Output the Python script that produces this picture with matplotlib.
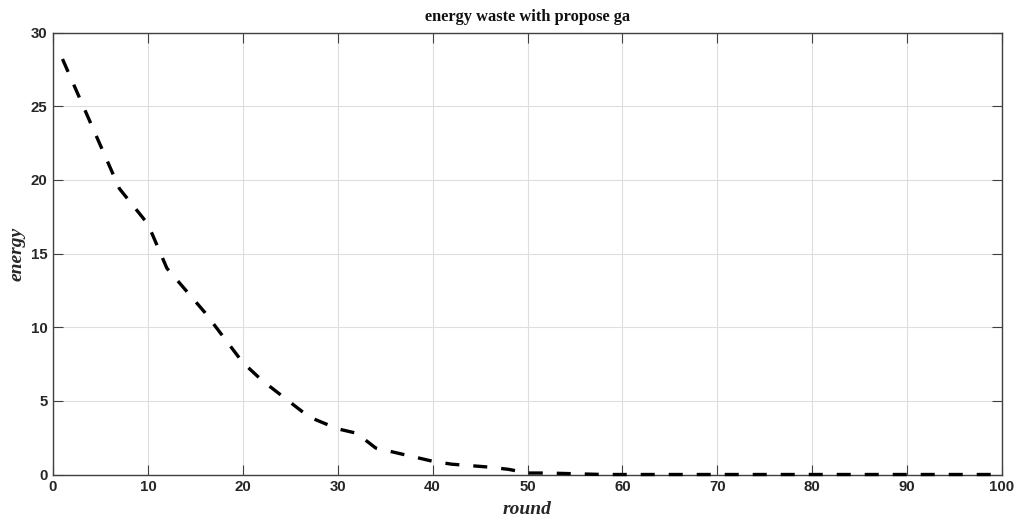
import matplotlib
matplotlib.use("Agg")
import matplotlib.pyplot as plt

# data (polyline nodes)
rounds = [1, 7, 10, 12, 16, 20, 22, 25, 27, 30, 32, 34, 36, 38, 40, 42, 44, 46, 48, 50, 52, 55, 58, 100]
energy = [28.2, 19.4, 17.0, 14.0, 11.0, 7.6, 6.4, 4.9, 3.9, 3.1, 2.8, 1.8, 1.5, 1.2, 0.9, 0.7,
          0.6, 0.5, 0.35, 0.1, 0.1, 0.05, 0.0, 0.0]
xticks = list(range(0, 101, 10))
yticks = list(range(0, 31, 5))

fig = plt.figure(figsize=(10.18, 5.22), dpi=100)
ax = fig.add_axes([53/1018, 1-474.5/522, (1002-53)/1018, (474.5-32.5)/522])

ax.plot(rounds, energy, color="black", lw=2.4, linestyle=(0, (4.2, 4.2)),
        dash_capstyle="butt", zorder=3, clip_on=False)

ax.set_xlim(0, 100)
ax.set_ylim(0, 30)
ax.set_xticks(xticks)
ax.set_yticks(yticks)
ax.grid(True, color="#dedede", lw=0.8)
ax.set_axisbelow(True)

axcol = "#404040"
for s in ax.spines.values():
    s.set_color(axcol)
    s.set_linewidth(1.0)
ax.tick_params(direction="in", length=7, width=0.8, color=axcol,
               top=True, right=True, labelsize=10.8, labelcolor="#262626", pad=4)
for lab in ax.get_xticklabels() + ax.get_yticklabels():
    lab.set_fontfamily("Liberation Sans")
    lab.set_fontweight("bold")

ax.set_title("energy waste with propose ga", fontfamily="Liberation Serif",
             fontweight="bold", fontsize=11.8, color="#111111", pad=8)
ax.set_xlabel("round", fontfamily="Liberation Serif", fontweight="bold",
              fontstyle="italic", fontsize=14, color="#262626", labelpad=5)
ax.set_ylabel("energy", fontfamily="Liberation Serif", fontweight="bold",
              fontstyle="italic", fontsize=14, color="#262626", labelpad=4)

fig.savefig("out.png", dpi=100)
